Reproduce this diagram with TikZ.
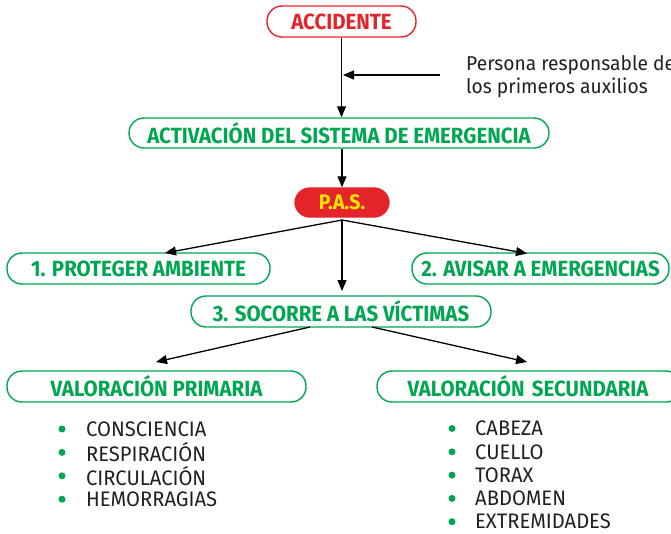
\documentclass[tikz,border=0pt]{standalone}
\usepackage{fontspec}
\usetikzlibrary{arrows.meta,calc}
\newfontfamily\hfont[FakeStretch=0.93]{Fira Sans Bold}
\newfontfamily\bfont[FakeStretch=0.96]{Fira Sans}
\definecolor{pgreen}{HTML}{00A651}
\definecolor{pred}{HTML}{E5232A}
\definecolor{pyellow}{HTML}{FFE600}
\definecolor{ptext}{HTML}{231F20}
\tikzset{
  box/.style={draw=pgreen, line width=1.4pt, rounded corners=15pt, minimum height=30pt, text=pgreen,
    font=\hfont\fontsize{22}{22}\selectfont, inner sep=0pt, anchor=center},
  arr/.style={-{Triangle[length=11pt,width=9pt]}, line width=1.3pt, draw=black},
  item/.style={anchor=west, text=ptext, font=\bfont\fontsize{21}{21}\selectfont, inner sep=0pt},
  dotb/.style={fill=pgreen, draw=none, circle, minimum size=7pt, inner sep=0pt},
  note/.style={anchor=west, text=ptext, font=\bfont\fontsize{20}{20}\selectfont, inner sep=0pt}
}
\begin{document}
\begin{tikzpicture}[x=1pt,y=1pt]
\useasboundingbox (0,0) rectangle (671,-533);
% boxes
\node[box, draw=pred, text=pred, minimum width=149pt, minimum height=31pt] (acc) at (341.5,-21.5) {ACCIDENTE};
\node[box, minimum width=420pt] (act) at (339,-133) {ACTIVACIÓN DEL SISTEMA DE EMERGENCIA};
\node[box, draw=pred, fill=pred, text=pyellow, minimum width=94pt, minimum height=29pt, font=\hfont\fontsize{21}{21}\selectfont] (pas) at (342,-202.5) {P.A.S.};
\node[box, minimum width=263pt, minimum height=31pt] (p1) at (138.5,-268.5) {1. PROTEGER AMBIENTE};
\node[box, minimum width=257pt, minimum height=31pt] (p2) at (540.5,-268.5) {2. AVISAR A EMERGENCIAS};
\node[box, minimum width=300pt, minimum height=31pt] (p3) at (341,-311.5) {3. SOCORRE A LAS VÍCTIMAS};
\node[box, minimum width=299pt, minimum height=31pt] (vp) at (156.5,-386.5) {VALORACIÓN PRIMARIA};
\node[box, minimum width=304pt, minimum height=31pt, text width=299pt, align=left] (vs) at (529,-386.5) {\hspace*{28pt}VALORACIÓN SECUNDARIA};
% note
\node[note] (n1) at (466,-65) {Persona responsable de};
\node[note] (n2) at (466,-88) {los primeros auxilios};
% connectors
\coordinate (nA) at (440,-75);
\coordinate (nB) at (343,-75);
\draw[arr] (acc.south) -- (act.north -| acc.south);
\draw[arr] (nA) -- (nB);
\draw[arr] (act.south -| pas.north) -- (pas.north);
\coordinate (ps) at (342,-220);
\coordinate (t1) at (165,-253);
\coordinate (t2) at (527,-253.5);
\coordinate (t3) at (342,-291);
\draw[arr] (ps) -- (t1);
\draw[arr] (ps) -- (t2);
\draw[arr] (ps) -- (t3);
\coordinate (s1) at (310,-327);
\coordinate (s2) at (372,-327);
\coordinate (e1) at (156,-362);
\coordinate (e2) at (527,-362);
\draw[arr] (s1) -- (e1);
\draw[arr] (s2) -- (e2);
% lists
\foreach \t [count=\i] in {CONSCIENCIA,RESPIRACIÓN,CIRCULACIÓN,HEMORRAGIAS} {
  \node[dotb] (pd\i) at (62,-429-23.4*\i+23.4) {};
  \node[item] (pi\i) at (86,-429-23.4*\i+23.4) {\t};
}
\foreach \t [count=\i] in {CABEZA,CUELLO,TORAX,ABDOMEN,EXTREMIDADES} {
  \node[dotb] (sd\i) at (452,-428.5-23.3*\i+23.3) {};
  \node[item] (si\i) at (475,-428.5-23.3*\i+23.3) {\t};
}
\end{tikzpicture}
\end{document}
